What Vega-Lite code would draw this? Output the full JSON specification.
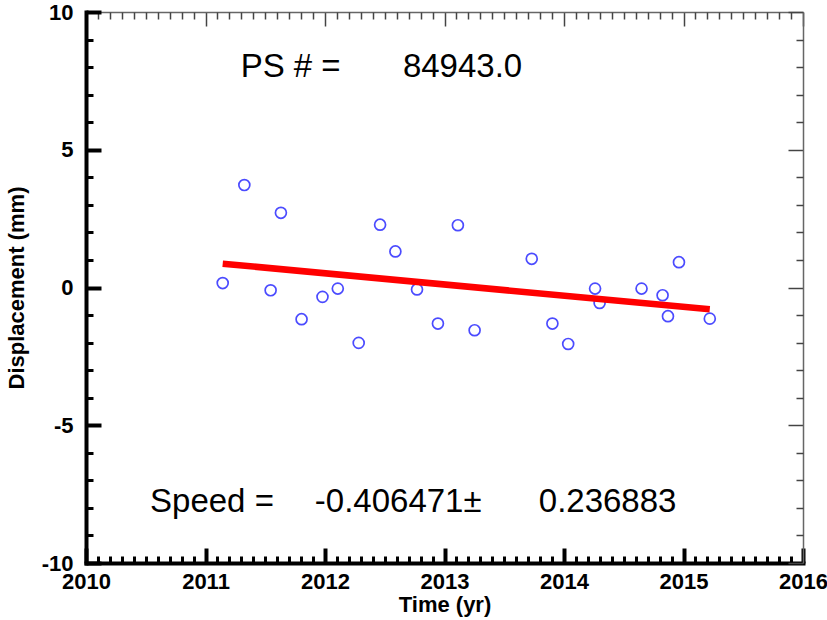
{
  "$schema": "https://vega.github.io/schema/vega-lite/v6.json",
  "autosize": "none",
  "width": 717,
  "height": 551,
  "padding": {"left": 86, "top": 12, "right": 24, "bottom": 57},
  "background": "white",
  "config": {
    "view": {"stroke": null},
    "font": "Liberation Sans",
    "axis": {"grid": false, "labelFont": "Liberation Sans", "titleFont": "Liberation Sans"}
  },
  "datasets": {
    "points": [
      {"t": 2011.144, "d": 0.16},
      {"t": 2011.325, "d": 3.72},
      {"t": 2011.545, "d": -0.10},
      {"t": 2011.631, "d": 2.71},
      {"t": 2011.804, "d": -1.15},
      {"t": 2011.979, "d": -0.34},
      {"t": 2012.107, "d": -0.04},
      {"t": 2012.282, "d": -2.01},
      {"t": 2012.461, "d": 2.28},
      {"t": 2012.589, "d": 1.31},
      {"t": 2012.770, "d": -0.07},
      {"t": 2012.945, "d": -1.31},
      {"t": 2013.112, "d": 2.26},
      {"t": 2013.252, "d": -1.55},
      {"t": 2013.730, "d": 1.04},
      {"t": 2013.903, "d": -1.31},
      {"t": 2014.035, "d": -2.05},
      {"t": 2014.260, "d": -0.04},
      {"t": 2014.298, "d": -0.56},
      {"t": 2014.649, "d": -0.04},
      {"t": 2014.825, "d": -0.28},
      {"t": 2014.870, "d": -1.04},
      {"t": 2014.962, "d": 0.92},
      {"t": 2015.220, "d": -1.13}
    ],
    "fit": [
      {"t": 2011.144, "d": 0.864},
      {"t": 2015.220, "d": -0.793}
    ],
    "label1": [
      {"t": 2011.294, "d": 7.63, "txt": "PS # ="},
      {"t": 2012.652, "d": 7.63, "txt": "84943.0"}
    ],
    "label2": [
      {"t": 2010.536, "d": -8.16, "txt": "Speed ="},
      {"t": 2011.915, "d": -8.16, "txt": "-0.406471±"},
      {"t": 2013.789, "d": -8.16, "txt": "0.236883"}
    ]
  },
  "resolve": {"axis": {"x": "independent", "y": "independent"}},
  "layer": [
    {
      "data": {"name": "points"},
      "mark": {"type": "point", "shape": "circle", "filled": false, "size": 120, "stroke": "#0000ff", "strokeWidth": 1.7},
      "encoding": {
        "x": {"field": "t", "type": "quantitative",
          "scale": {"domain": [2010, 2016], "nice": false, "zero": false},
          "axis": {"orient": "bottom", "values": [2010, 2011, 2012, 2013, 2014, 2015, 2016], "labelExpr": "'' + datum.value",
            "title": "Time (yr)", "titleFontSize": 22, "titleFontWeight": "bold", "titleColor": "black", "titlePadding": 2,
            "labelFontSize": 22, "labelFontWeight": "bold", "labelColor": "black", "labelPadding": 23, "labelFlush": false, "labelOverlap": false,
            "domainColor": "black", "domainWidth": 4, "domainCap": "square",
            "tickSize": -15, "tickWidth": 4, "tickColor": "black"}},
        "y": {"field": "d", "type": "quantitative",
          "scale": {"domain": [-10, 10], "nice": false, "zero": false},
          "axis": {"orient": "left", "values": [-10, -5, 0, 5, 10], "labelExpr": "'' + datum.value",
            "title": "Displacement (mm)", "titleFontSize": 22, "titleFontWeight": "bold", "titleColor": "black", "titlePadding": 13,
            "labelFontSize": 22, "labelFontWeight": "bold", "labelColor": "black", "labelPadding": 28, "labelFlush": false, "labelOverlap": false,
            "domainColor": "black", "domainWidth": 4, "domainCap": "square",
            "tickSize": -15, "tickWidth": 4, "tickColor": "black"}}
      }
    },
    {
      "data": {"name": "fit"},
      "mark": {"type": "line", "color": "#ff0000", "strokeWidth": 6.5, "strokeCap": "butt"},
      "encoding": {
        "x": {"field": "t", "type": "quantitative",
          "axis": {"orient": "bottom", "values": [2010.1,2010.2,2010.3,2010.4,2010.5,2010.6,2010.7,2010.8,2010.9,2011.1,2011.2,2011.3,2011.4,2011.5,2011.6,2011.7,2011.8,2011.9,2012.1,2012.2,2012.3,2012.4,2012.5,2012.6,2012.7,2012.8,2012.9,2013.1,2013.2,2013.3,2013.4,2013.5,2013.6,2013.7,2013.8,2013.9,2014.1,2014.2,2014.3,2014.4,2014.5,2014.6,2014.7,2014.8,2014.9,2015.1,2015.2,2015.3,2015.4,2015.5,2015.6,2015.7,2015.8,2015.9],
            "title": null, "labels": false, "domain": false,
            "tickSize": -7, "tickWidth": 3, "tickColor": "black"}},
        "y": {"field": "d", "type": "quantitative",
          "axis": {"orient": "left", "values": [-9,-8,-7,-6,-4,-3,-2,-1,1,2,3,4,6,7,8,9],
            "title": null, "labels": false, "domain": false,
            "tickSize": -7, "tickWidth": 3, "tickColor": "black"}}
      }
    },
    {
      "data": {"name": "label1"},
      "mark": {"type": "text", "align": "left", "baseline": "alphabetic", "fontSize": 33, "font": "Liberation Sans", "color": "black"},
      "encoding": {
        "x": {"field": "t", "type": "quantitative",
          "axis": {"orient": "top", "values": [2010, 2011, 2012, 2013, 2014, 2015, 2016],
            "title": null, "labels": false, "domain": true, "domainColor": "#666666", "domainWidth": 1.5,
            "tickSize": -14, "tickWidth": 1.5, "tickColor": "#444444"}},
        "y": {"field": "d", "type": "quantitative",
          "axis": {"orient": "right", "values": [-10, -5, 0, 5, 10],
            "title": null, "labels": false, "domain": true, "domainColor": "#666666", "domainWidth": 1.5,
            "tickSize": -15, "tickWidth": 1.5, "tickColor": "#444444"}},
        "text": {"field": "txt"}
      }
    },
    {
      "data": {"name": "label2"},
      "mark": {"type": "text", "align": "left", "baseline": "alphabetic", "fontSize": 33, "font": "Liberation Sans", "color": "black"},
      "encoding": {
        "x": {"field": "t", "type": "quantitative",
          "axis": {"orient": "top", "values": [2010.1,2010.2,2010.3,2010.4,2010.5,2010.6,2010.7,2010.8,2010.9,2011.1,2011.2,2011.3,2011.4,2011.5,2011.6,2011.7,2011.8,2011.9,2012.1,2012.2,2012.3,2012.4,2012.5,2012.6,2012.7,2012.8,2012.9,2013.1,2013.2,2013.3,2013.4,2013.5,2013.6,2013.7,2013.8,2013.9,2014.1,2014.2,2014.3,2014.4,2014.5,2014.6,2014.7,2014.8,2014.9,2015.1,2015.2,2015.3,2015.4,2015.5,2015.6,2015.7,2015.8,2015.9],
            "title": null, "labels": false, "domain": false,
            "tickSize": -7, "tickWidth": 1.5, "tickColor": "#444444"}},
        "y": {"field": "d", "type": "quantitative",
          "axis": {"orient": "right", "values": [-9,-8,-7,-6,-4,-3,-2,-1,1,2,3,4,6,7,8,9],
            "title": null, "labels": false, "domain": false,
            "tickSize": -7, "tickWidth": 1.5, "tickColor": "#444444"}},
        "text": {"field": "txt"}
      }
    }
  ]
}
